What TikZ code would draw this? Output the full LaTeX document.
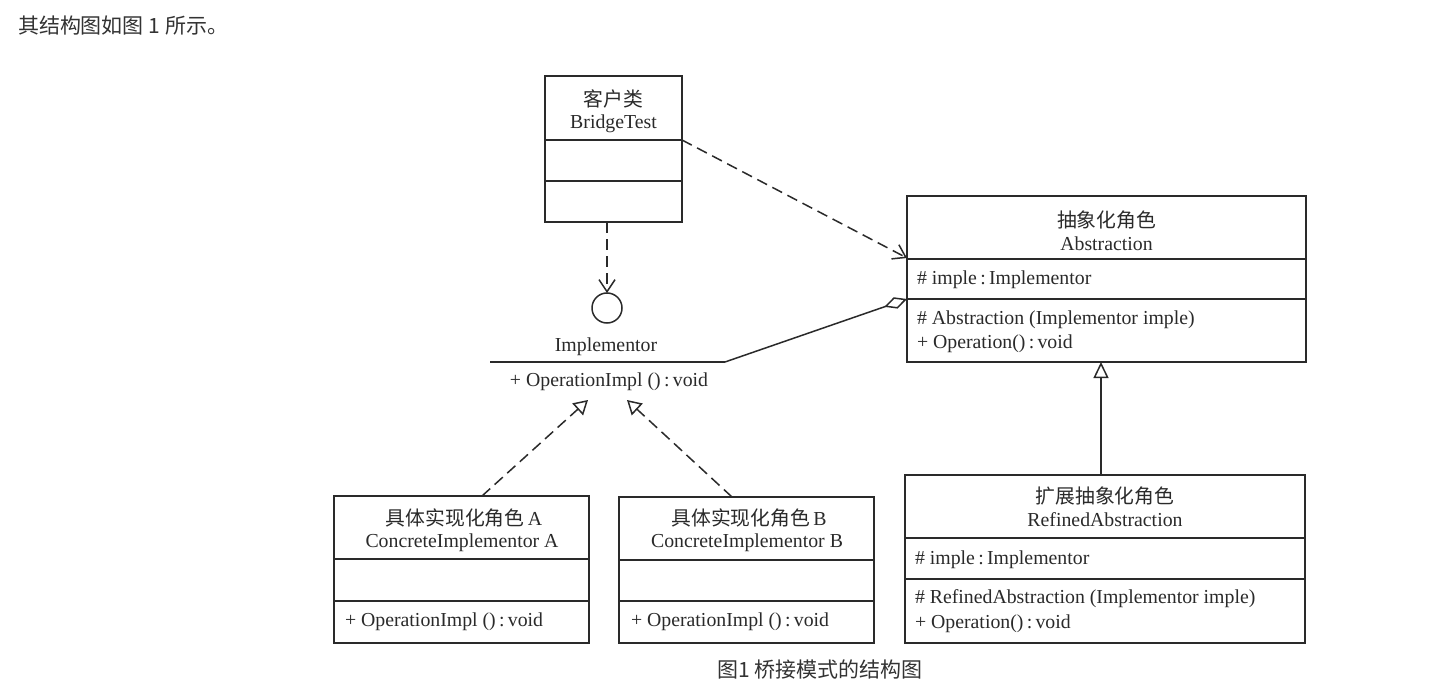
\documentclass[tikz,border=0pt]{standalone}
\usepackage{fontspec}
\setmainfont{Liberation Serif}
\newfontfamily\cjk{Noto Sans CJK SC}
\usetikzlibrary{arrows.meta}
\definecolor{ln}{HTML}{2A2A2A}
\definecolor{tx}{HTML}{2A2A2A}
\definecolor{ui}{HTML}{333333}
\begin{document}
\begin{tikzpicture}[x=1pt,y=-1pt,
  every node/.style={inner sep=0pt, outer sep=0pt, text=tx, font=\fontsize{19.8}{23}\selectfont},
  cls/.style={draw=ln, line width=1.5pt, fill=none},
  div/.style={draw=ln, line width=1.5pt},
  lft/.style={anchor=west},
  uitext/.style={text=ui, font=\cjk\fontsize{21}{24}\selectfont},
  dep/.style={draw=ln, line width=1.5pt, dash pattern=on 11pt off 6pt, -{Straight Barb[length=12pt,width=16pt,line width=1.5pt]}},
  real/.style={draw=ln, line width=1.5pt, dash pattern=on 11pt off 6pt, -{Triangle[open,length=14pt,width=16pt,line width=1.5pt]}},
  gen/.style={draw=ln, line width=1.5pt, -{Triangle[open,length=16pt,width=15pt,line width=1.5pt]}},
  agg/.style={draw=ln, line width=1.5pt, -{Diamond[open,length=24pt,width=12pt,line width=1.5pt]}}
]
\useasboundingbox (0,0) rectangle (1441,698);
\fill[white] (0,0) rectangle (1441,698);

% top sentence
\node[uitext, anchor=west] (intro) at (18,26) {其结构图如图 1 所示。};

% BridgeTest
\node[cls, minimum width=137pt, minimum height=146pt] (bt) at (613.5,149) {};
\draw[div] (545,140) -- (682,140);
\draw[div] (545,181) -- (682,181);
\node (btc) at (613.5,99) {\cjk 客户类};
\node (bte) at (613.5,124) {BridgeTest};

% Implementor interface
\node[draw=ln, line width=1.5pt, circle, minimum size=30pt] (ifc) at (607,308) {};
\node (ifn) at (606,347) {Implementor};
\coordinate (il) at (490,362);
\coordinate (ir) at (725,362);
\draw[div] (il) -- (ir);
\node (ifo) at (609,382) {+ OperationImpl ()\,:\,void};

% Abstraction
\node[cls, minimum width=399pt, minimum height=166pt] (ab) at (1106.5,279) {};
\draw[div] (907,259) -- (1306,259);
\draw[div] (907,299) -- (1306,299);
\node (abc) at (1106.5,220) {\cjk 抽象化角色};
\node (abe) at (1106.5,244) {Abstraction};
\node[lft] (aba) at (917,280) {\# imple\,:\,Implementor};
\node[lft] (abm1) at (917,320) {\# Abstraction (Implementor imple)};
\node[lft] (abm2) at (917,344) {+ Operation()\,:\,void};

% RefinedAbstraction
\node[cls, minimum width=400pt, minimum height=168pt] (ra) at (1105,559) {};
\draw[div] (905,538) -- (1305,538);
\draw[div] (905,579) -- (1305,579);
\node (rac) at (1105,496) {\cjk 扩展抽象化角色};
\node (rae) at (1105,520) {RefinedAbstraction};
\node[lft] (raa) at (915,560) {\# imple\,:\,Implementor};
\node[lft] (ram1) at (915,599) {\# RefinedAbstraction (Implementor imple)};
\node[lft] (ram2) at (915,624) {+ Operation()\,:\,void};

% ConcreteImplementor A
\node[cls, minimum width=255pt, minimum height=147pt] (ca) at (461.5,569.5) {};
\draw[div] (334,559) -- (589,559);
\draw[div] (334,601) -- (589,601);
\node (cac) at (464,518) {{\cjk 具体实现化角色}\,A};
\node (cae) at (462,543) {ConcreteImplementor A};
\node[lft] (cao) at (345,622) {+ OperationImpl ()\,:\,void};

% ConcreteImplementor B
\node[cls, minimum width=255pt, minimum height=146pt] (cb) at (746.5,570) {};
\draw[div] (619,560) -- (874,560);
\draw[div] (619,601) -- (874,601);
\node (cbc) at (749,518) {{\cjk 具体实现化角色}\,B};
\node (cbe) at (747,543) {ConcreteImplementor B};
\node[lft] (cbo) at (631,622) {+ OperationImpl ()\,:\,void};

% caption
\node[uitext] (cap) at (820,670) {图1 桥接模式的结构图};

% connectors
\coordinate (btb) at (607,222);
\draw[dep] (btb) -- (ifc.north);
\coordinate (btr) at (682,140);
\coordinate (abl) at (907,258);
\draw[dep] (btr) -- (abl);
\coordinate (abag) at (907,299);
\draw[agg] (ir) -- (abag);
\coordinate (rat) at (1101,475);
\coordinate (abb) at (1101,362);
\draw[gen] (rat) -- (abb);
\coordinate (sA) at (482,496);
\coordinate (tA) at (588,400);
\draw[real] (sA) -- (tA);
\coordinate (sB) at (732,497);
\coordinate (tB) at (627,400);
\draw[real] (sB) -- (tB);
\end{tikzpicture}
\end{document}
